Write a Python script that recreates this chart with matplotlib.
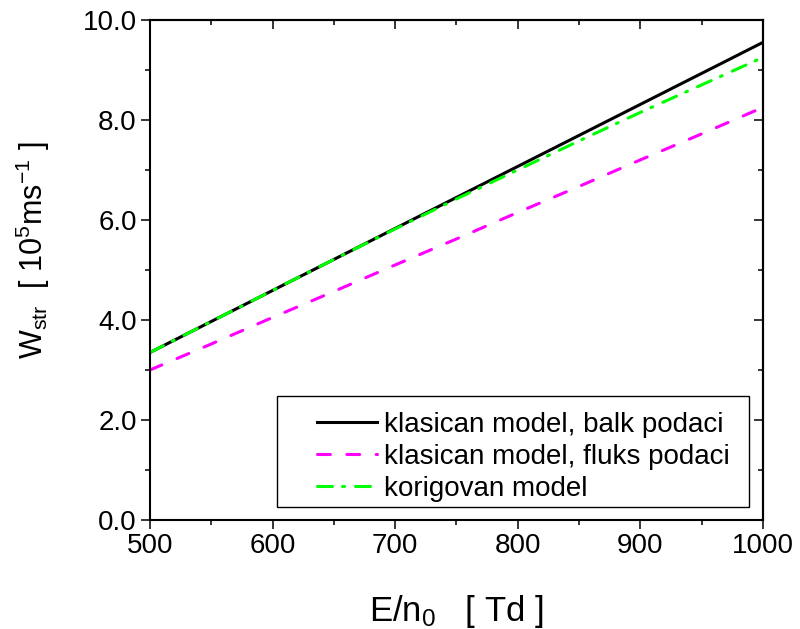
import matplotlib.pyplot as plt
from matplotlib.patches import Rectangle

plt.rcParams['font.family'] = ['Liberation Sans', 'DejaVu Sans']
plt.rcParams['mathtext.fontset'] = 'custom'
plt.rcParams['mathtext.rm'] = 'Liberation Sans'
plt.rcParams['mathtext.it'] = 'Liberation Sans:italic'

# --- datos ---
e_n0 = [500, 550, 600, 650, 700, 750, 800, 850, 900, 950, 1000]
balk = [3.35, 3.97, 4.59, 5.21, 5.83, 6.45, 7.07, 7.69, 8.31, 8.93, 9.55]
fluks = [3.00, 3.52, 4.05, 4.57, 5.10, 5.62, 6.15, 6.67, 7.20, 7.72, 8.25]
korig = [3.35, 3.97, 4.59, 5.21, 5.82, 6.42, 7.00, 7.58, 8.15, 8.70, 9.25]

etiquetas = ['klasican model, balk podaci',
             'klasican model, fluks podaci',
             'korigovan model']

fig = plt.figure(figsize=(8, 6.29), dpi=100)
ax = fig.add_axes([0.1875, 0.1733, 0.766, 0.795])

lw = 2.2
ax.plot(e_n0, balk, color='black', lw=lw, label=etiquetas[0])
ax.plot(e_n0, fluks, color='#ff00ff', lw=lw, dashes=(4.2, 5.4),
        dash_capstyle='round', label=etiquetas[1])
ax.plot(e_n0, korig, color='#00ff00', lw=lw, dashes=(4.9, 3.3, 0.65, 3.6),
        dash_capstyle='round', label=etiquetas[2])

ax.set_xlim(500, 1000)
ax.set_ylim(0, 10)
ax.set_xticks(range(500, 1001, 100))
ax.set_xticks(range(550, 1000, 100), minor=True)
ax.set_yticks([0, 2, 4, 6, 8, 10])
ax.set_yticklabels(['0.0', '2.0', '4.0', '6.0', '8.0', '10.0'])
ax.set_yticks([1, 3, 5, 7, 9], minor=True)

for s in ax.spines.values():
    s.set_linewidth(1.5)
ax.tick_params(which='major', direction='out', length=6.5, width=1.1,
               labelsize=20, pad=3)
ax.tick_params(which='minor', direction='out', length=3.6, width=1.1)

# ticks espejo hacia dentro
top = ax.secondary_xaxis('top')
top.set_xticks(range(500, 1001, 100))
top.set_xticks(range(550, 1000, 100), minor=True)
right = ax.secondary_yaxis('right')
right.set_yticks([0, 2, 4, 6, 8, 10])
right.set_yticks([1, 3, 5, 7, 9], minor=True)
for sec in (top, right):
    sec.tick_params(which='major', direction='in', length=6.5, width=1.1,
                    labeltop=False, labelright=False)
    sec.tick_params(which='minor', direction='in', length=3.6, width=1.1)
    for s in sec.spines.values():
        s.set_linewidth(1.5)

ax.set_xlabel(r'E/n$_{\mathregular{0}}$   [ Td ]', fontsize=25)
ax.xaxis.set_label_coords(0.5, -0.145)
ax.set_ylabel(r'W$_{\mathregular{str}}$  [ 10$^{\mathregular{5}}$ms$^{\mathregular{-1}}$ ]',
              fontsize=22)
ax.yaxis.set_label_coords(-0.16, 0.54)

leg = ax.legend(loc='upper left', bbox_to_anchor=(0.272, 0.216), frameon=False,
                fontsize=20, handlelength=2.16, handletextpad=0.25,
                labelspacing=0.22, borderpad=0, borderaxespad=0)
ax.add_patch(Rectangle((0.207, 0.026), 0.770, 0.222, transform=ax.transAxes,
                       facecolor='white', edgecolor='black', lw=1.0, zorder=4))
leg.set_zorder(5)

fig.savefig('out.png', dpi=100)
